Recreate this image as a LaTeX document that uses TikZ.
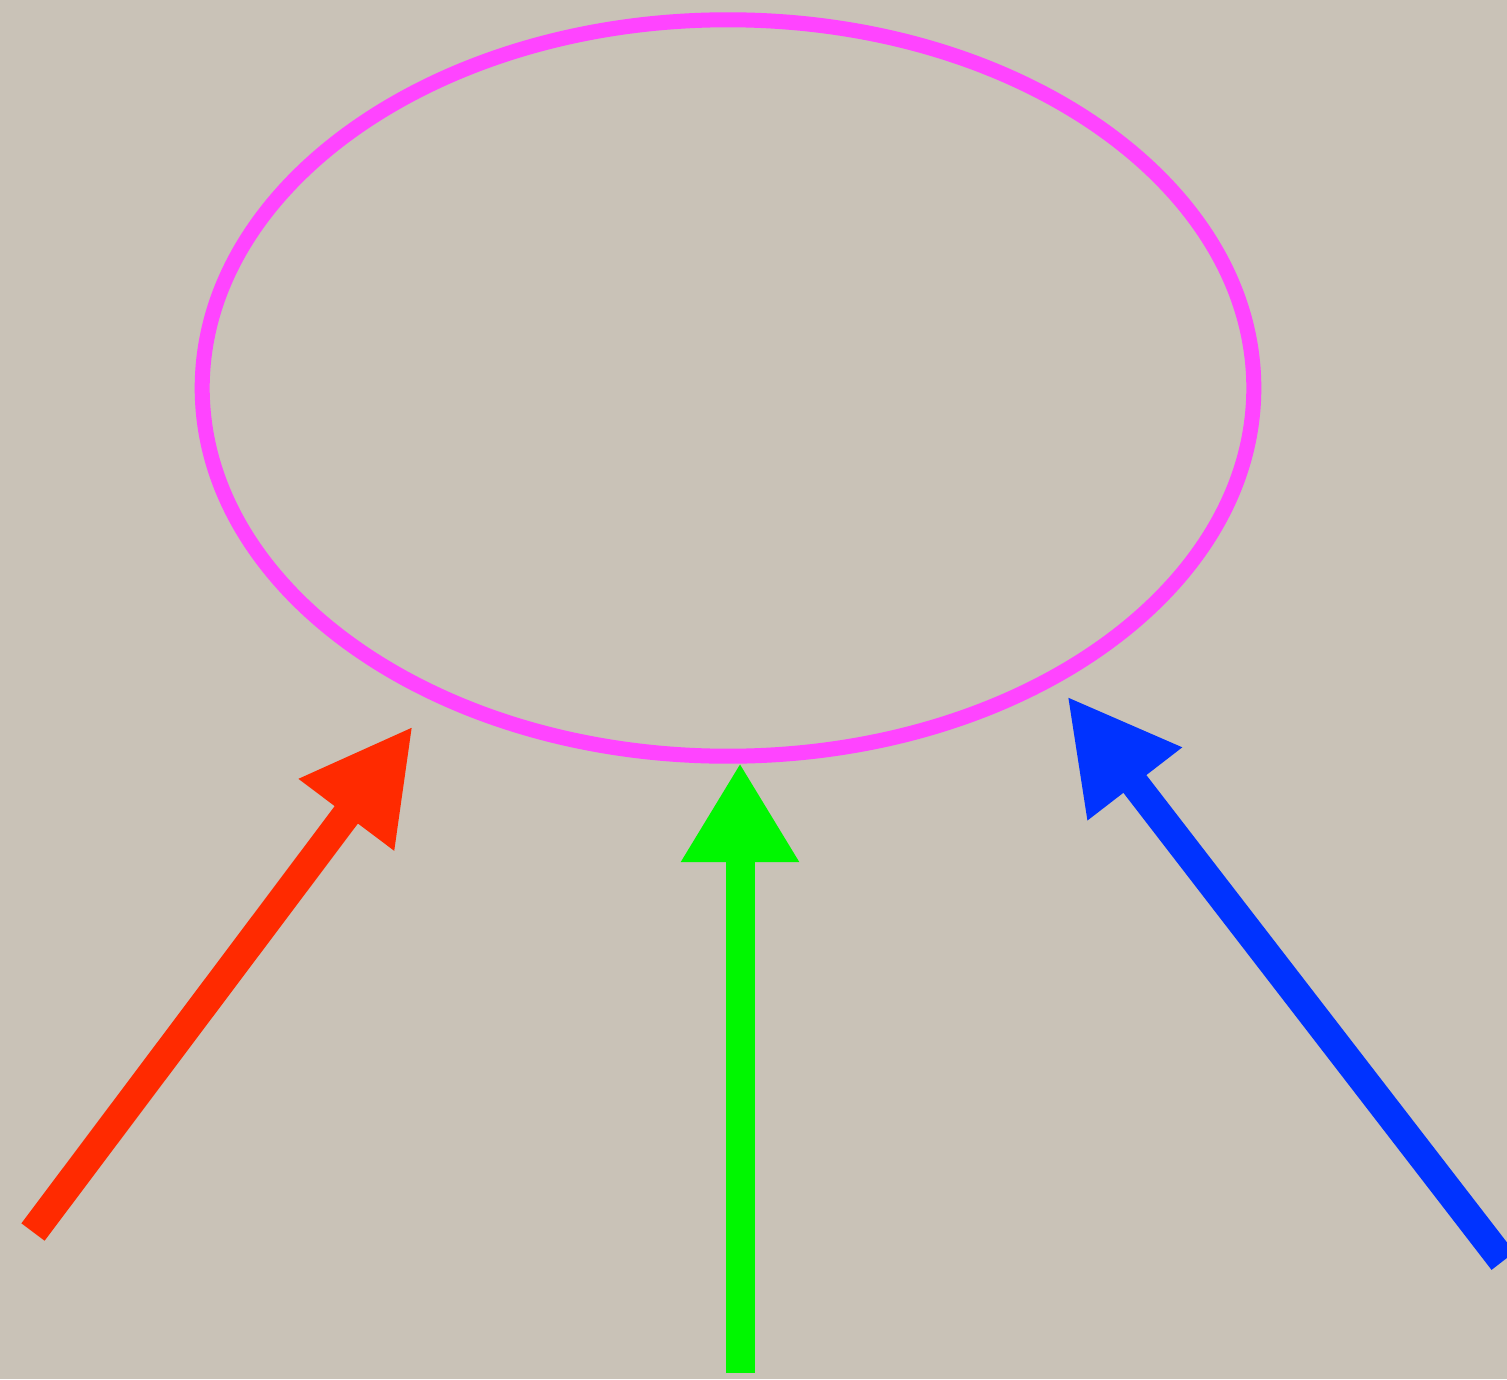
\documentclass[tikz,border=0pt]{standalone}
\usepackage{tikz}
\usetikzlibrary{positioning, arrows.meta, shapes.geometric}

\definecolor{sand}{HTML}{C9C2B7}
\definecolor{ringpink}{HTML}{FF44FF}
\definecolor{arrred}{HTML}{FF2A00}
\definecolor{arrgreen}{HTML}{00F700}
\definecolor{arrblue}{HTML}{0033FF}

\begin{document}
\begin{tikzpicture}[
    x=0.01cm, y=-0.01cm,
    ring/.style={draw=ringpink, ellipse, line width=0.15cm, inner sep=0pt,
                 minimum width=10.51cm, minimum height=7.36cm},
    arr/.style={-{Triangle[length=1.11cm, width=1.11cm]}, line cap=butt, line width=0.29cm},
]

\fill[sand] (0,0) rectangle (1507,1379);
\useasboundingbox (0,0) rectangle (1507,1379);

\node[ring] (loop) at (728,388) {};

\coordinate (redfrom) at (33,1232);
\coordinate (redto) at (413,726);
\coordinate (greenfrom) at (740,1373);
\coordinate (greento) at (740,763);
\coordinate (bluefrom) at (1503,1261);
\coordinate (blueto) at (1067,696);

\draw[arr, arrred] (redfrom) -- (redto);
\draw[arr, arrgreen, -{Triangle[length=0.99cm, width=1.11cm]}] (greenfrom) -- (greento);
\draw[arr, arrblue] (bluefrom) -- (blueto);

\end{tikzpicture}
\end{document}
